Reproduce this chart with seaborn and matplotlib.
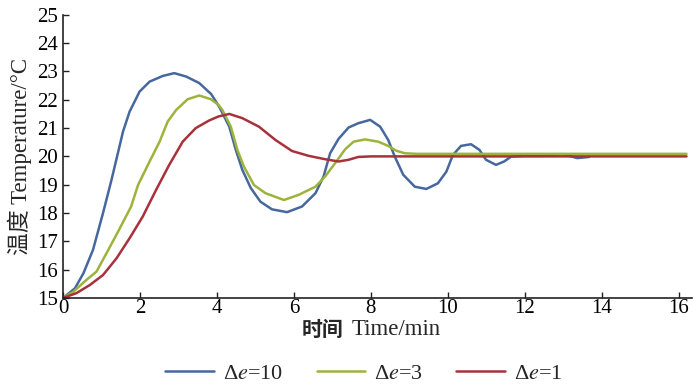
import matplotlib
matplotlib.use('Agg')
import matplotlib.pyplot as plt
import seaborn as sns
import pandas as pd

# values
t_blue = [0, 0.31, 0.53, 0.78, 1.04, 1.26, 1.56, 1.73, 1.99, 2.25, 2.59, 2.89, 3.2, 3.54, 3.85, 4.06,
          4.32, 4.49, 4.66, 4.88, 5.13, 5.43, 5.82, 6.21, 6.56, 6.77, 6.94, 7.16, 7.42, 7.67, 7.98, 8.24,
          8.45, 8.62, 8.84, 9.14, 9.44, 9.74, 9.96, 10.13, 10.34, 10.6, 10.82, 10.99, 11.25, 11.46,
          11.64, 11.98, 12.5, 12.97, 13.15, 13.36, 13.67]
y_blue = [15.0, 15.34, 15.87, 16.7, 18.0, 19.17, 20.88, 21.58, 22.29, 22.64, 22.84, 22.94, 22.82, 22.59,
          22.2, 21.75, 21.05, 20.23, 19.52, 18.88, 18.4, 18.13, 18.03, 18.23, 18.7, 19.29, 20.11, 20.62,
          21.02, 21.17, 21.29, 21.05, 20.58, 19.99, 19.35, 18.93, 18.85, 19.05, 19.46, 20.05, 20.37,
          20.43, 20.23, 19.88, 19.7, 19.82, 19.99, 20.02, 20.02, 20.08, 20.02, 19.94, 19.98]

t_green = [0, 0.27, 0.61, 0.87, 1.13, 1.43, 1.77, 1.95, 2.25, 2.51, 2.72, 2.94, 3.24, 3.54, 3.84, 4.04,
           4.14, 4.36, 4.53, 4.7, 4.96, 5.26, 5.74, 6.12, 6.56, 6.81, 7.07, 7.33, 7.55, 7.85, 8.19, 8.45,
           8.66, 8.88, 9.2, 10.0, 12.0, 14.0, 16.2]
y_green = [15.0, 15.22, 15.64, 15.93, 16.58, 17.34, 18.23, 18.99, 19.82, 20.52, 21.23, 21.64, 22.02, 22.15,
           22.02, 21.82, 21.64, 21.05, 20.23, 19.64, 18.99, 18.7, 18.46, 18.64, 18.93, 19.29, 19.76, 20.25,
           20.52, 20.6, 20.52, 20.37, 20.2, 20.11, 20.09, 20.09, 20.09, 20.09, 20.09]

t_red = [0, 0.35, 0.7, 1.04, 1.39, 1.73, 2.07, 2.42, 2.76, 3.11, 3.45, 3.8, 4.04, 4.32, 4.66, 5.09, 5.52,
         5.95, 6.38, 6.81, 7.16, 7.42, 7.67, 8.0, 10.0, 12.0, 14.0, 16.2]
y_red = [15.0, 15.17, 15.46, 15.81, 16.4, 17.11, 17.87, 18.82, 19.7, 20.52, 21.0, 21.27, 21.41, 21.5, 21.35,
         21.05, 20.58, 20.19, 20.02, 19.9, 19.82, 19.88, 19.98, 20.0, 20.0, 20.0, 20.0, 20.0]

labels = [r'Δ$e$=10', r'Δ$e$=3', r'Δ$e$=1']
colors = ['#46689c', '#9cb43c', '#a8323c']

df = pd.concat([
    pd.DataFrame({'t': t_blue, 'T': y_blue, 'case': labels[0]}),
    pd.DataFrame({'t': t_green, 'T': y_green, 'case': labels[1]}),
    pd.DataFrame({'t': t_red, 'T': y_red, 'case': labels[2]}),
])

sns.set_style('ticks')
plt.rcParams['font.family'] = ['Liberation Serif', 'Noto Sans CJK SC']
plt.rcParams['mathtext.fontset'] = 'stix'

fig = plt.figure(figsize=(7, 3.9), dpi=100)
ax = fig.add_axes([0.09, 0.236, 0.899, 0.726])
sns.lineplot(data=df, x='t', y='T', hue='case', palette=colors, sort=False,
             linewidth=1.8, ax=ax, legend=False)

ax.set_xlim(0, 16.35)
ax.set_ylim(15, 25)
ax.set_xticks(range(0, 17, 2))
ax.set_yticks(range(15, 26))
ax.tick_params(direction='in', labelsize=15, length=4, width=1, colors='#222222', labelcolor='black')
ax.tick_params(axis='x', pad=1)
for s in ['top', 'right']:
    ax.spines[s].set_visible(False)
for s in ['left', 'bottom']:
    ax.spines[s].set_linewidth(1.2)
    ax.spines[s].set_color('#222222')

ax.set_xlabel('')
ax.set_ylabel('温度 Temperature/°C', fontsize=16.5, labelpad=4)
fig.text(0.49, 0.155, '时间', fontsize=15, fontweight='bold', ha='right', va='center',
         family=['Noto Sans CJK SC'])
fig.text(0.503, 0.155, 'Time/min', fontsize=16.5, ha='left', va='center')

handles = [plt.Line2D([], [], color=c, linewidth=1.8) for c in colors]
fig.legend(handles, labels, loc='lower center', bbox_to_anchor=(0.52, -0.035), ncol=3,
           frameon=False, fontsize=16, handlelength=2.2, columnspacing=1.5, handletextpad=0.4)

fig.savefig('out.png', dpi=100)
